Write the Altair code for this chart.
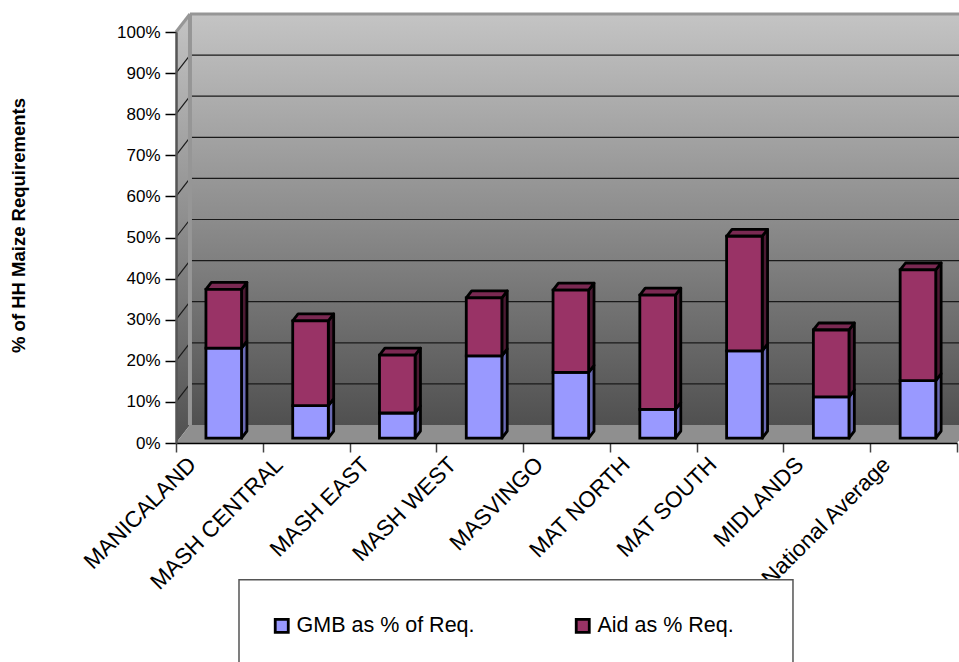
import altair as alt
import pandas as pd

# Survey results by province, in percent of household maize requirements
categories = ["MANICALAND", "MASH CENTRAL", "MASH EAST", "MASH WEST", "MASVINGO",
              "MAT NORTH", "MAT SOUTH", "MIDLANDS", "National Average"]
gmb_share = [21.9, 7.9, 6.1, 20.0, 16.0, 7.0, 21.2, 10.0, 14.0]
aid_share = [14.3, 20.6, 14.1, 14.1, 20.0, 27.8, 27.9, 16.3, 26.9]
grid_levels = [10, 20, 30, 40, 50, 60, 70, 80, 90]
series_names = ["GMB as % of Req.", "Aid as % Req."]
front_colors = ["#9999ff", "#993366"]
side_colors = ["#6a6ab4", "#4c1a33"]
top_color = "#7a2952"

# Oblique projection of the box: how far the rear plane sits from the front one
WALL_DX = 0.161   # category units
WALL_DY = 4.38    # percent units
BAR_DX = 0.062
BAR_DY = 1.7
BAR_BASE = 1.2
BAR_LEFT, BAR_RIGHT = 0.345, 0.755
N = len(categories)

x_scale = alt.Scale(domain=[0, N], nice=False, zero=False)
y_scale = alt.Scale(domain=[0, 100], nice=False, zero=False)


def X(field="x"):
    return alt.X(f"{field}:Q", scale=x_scale)


def Y(field="y"):
    return alt.Y(f"{field}:Q", scale=y_scale, stack=None)


wall_gradient = alt.Gradient(
    gradient="linear", x1=1, x2=1, y1=0, y2=1,
    stops=[alt.GradientStop(color="#c4c4c4", offset=0),
           alt.GradientStop(color="#8c8c8c", offset=0.5),
           alt.GradientStop(color="#505050", offset=1)],
)

# Transparent layer that owns the axes
axis_frame = alt.Chart(pd.DataFrame({"x": [0, N], "y": [0, 100]})).mark_point(opacity=0).encode(
    x=alt.X("x:Q", scale=x_scale, title=None, axis=alt.Axis(
        values=list(range(N + 1)), labels=False, tickSize=9, tickColor="#444444",
        tickWidth=1.5, domainColor="#000000", domainWidth=1.5, grid=False, zindex=1)),
    y=alt.Y("y:Q", scale=y_scale, axis=alt.Axis(
        values=list(range(0, 101, 10)), labelExpr="datum.value + '%'", grid=False,
        tickSize=11, tickColor="#000000", tickWidth=1.5, labelPadding=5,
        labelFont="Liberation Sans", labelFontSize=17, labelColor="#000000",
        domainColor="#555555", domainWidth=2.5, zindex=1,
        title="% of HH Maize Requirements", titleFont="Liberation Sans",
        titleFontSize=18.5, titleFontWeight="bold", titleColor="#000000",
        titleAngle=270, titleAlign="center", titleBaseline="middle",
        titleX=-158, titleY=193)),
)

# Rear wall
back_wall = alt.Chart(pd.DataFrame([{
    "x": WALL_DX, "x2": N + WALL_DX, "y": WALL_DY, "y2": 100 + WALL_DY}])
).mark_rect(color=wall_gradient).encode(x=X(), x2="x2:Q", y=Y(), y2="y2:Q")

# Left wall as a sheared area
left_wall = alt.Chart(pd.DataFrame([
    {"x": 0, "y": 0, "y2": 100},
    {"x": WALL_DX, "y": WALL_DY, "y2": 100 + WALL_DY},
])).mark_area(orient="vertical", color=wall_gradient).encode(x=X(), y=Y(), y2="y2:Q")

# Floor of the box
floor = alt.Chart(pd.DataFrame([
    {"y": 0, "x": 0, "x2": N},
    {"y": WALL_DY, "x": WALL_DX, "x2": N + WALL_DX},
])).mark_area(orient="horizontal", color="#8f8f8f").encode(x=X(), x2="x2:Q", y=Y())

# Grid lines across the rear wall and down the left wall
grid_back = alt.Chart(pd.DataFrame({
    "y": [v + WALL_DY for v in grid_levels],
    "x": [WALL_DX] * len(grid_levels),
    "x2": [N + WALL_DX] * len(grid_levels),
})).mark_rule(color="#1a1a1a", strokeWidth=1.2).encode(x=X(), x2="x2:Q", y=Y())

grid_side = alt.Chart(pd.DataFrame(
    [{"level": v, "x": 0, "y": v} for v in grid_levels]
    + [{"level": v, "x": WALL_DX, "y": v + WALL_DY} for v in grid_levels]
)).mark_line(color="#1a1a1a", strokeWidth=1.2).encode(x=X(), y=Y(), detail="level:N")

# Grey edges of the rear wall and the slanted top edge
edge_left = alt.Chart(pd.DataFrame([{"x": WALL_DX, "y": 0 + WALL_DY, "y2": 100 + WALL_DY}])
                      ).mark_rule(color="#969696", strokeWidth=4).encode(x=X(), y=Y(), y2="y2:Q")
edge_top = alt.Chart(pd.DataFrame([{"y": 100 + WALL_DY, "x": WALL_DX, "x2": N + WALL_DX}])
                     ).mark_rule(color="#969696", strokeWidth=3).encode(x=X(), x2="x2:Q", y=Y())
edge_slant = alt.Chart(pd.DataFrame([
    {"x": 0, "y": 100}, {"x": WALL_DX, "y": 100 + WALL_DY},
])).mark_line(color="#969696", strokeWidth=3).encode(x=X(), y=Y())

# Bar geometry, all derived from the two value series
front_rows, side_rows, top_rows = [], [], []
for i, (gmb, aid) in enumerate(zip(gmb_share, aid_share)):
    left, right = i + BAR_LEFT, i + BAR_RIGHT
    low = BAR_BASE
    for k, value in enumerate((gmb, aid)):
        high = low + value
        front_rows.append({"series": series_names[k], "x": left, "x2": right, "y": low, "y2": high})
        side_rows.append({"id": f"{i}-{k}", "series": series_names[k], "x": right, "y": low, "y2": high})
        side_rows.append({"id": f"{i}-{k}", "series": series_names[k], "x": right + BAR_DX,
                          "y": low + BAR_DY, "y2": high + BAR_DY})
        low = high
    top_rows.append({"id": i, "y": low, "x": left, "x2": right})
    top_rows.append({"id": i, "y": low + BAR_DY, "x": left + BAR_DX, "x2": right + BAR_DX})

bar_side = alt.Chart(pd.DataFrame(side_rows)).mark_area(
    orient="vertical", stroke="#000000", strokeWidth=2.8, strokeJoin="round"
).encode(
    x=X(), y=Y(), y2="y2:Q", detail="id:N",
    color=alt.Color("series:N", legend=None,
                    scale=alt.Scale(domain=series_names, range=side_colors)),
)
bar_top = alt.Chart(pd.DataFrame(top_rows)).mark_area(
    orient="horizontal", color=top_color, stroke="#000000", strokeWidth=2.8, strokeJoin="round"
).encode(x=X(), x2="x2:Q", y=Y(), detail="id:N")
bar_front = alt.Chart(pd.DataFrame(front_rows)).mark_rect(
    stroke="#000000", strokeWidth=2.8
).encode(
    x=X(), x2="x2:Q", y=Y(), y2="y2:Q",
    fill=alt.Fill("series:N", scale=alt.Scale(domain=series_names, range=front_colors),
                  legend=alt.Legend(
                      orient="none", legendX=95, legendY=583, direction="horizontal",
                      title=None, symbolType="square", symbolSize=170,
                      symbolStrokeColor="#000000", symbolStrokeWidth=2.8,
                      labelFont="Liberation Sans", labelFontSize=21.5, labelColor="#000000",
                      labelOffset=4, columnPadding=95, columns=2, labelLimit=300)),
)

# Slanted category labels
labels = alt.Chart(pd.DataFrame({
    "name": categories,
    "x": [i + 0.19 for i in range(N)],
    "y": [-4.4] * N,
})).mark_text(angle=315, align="right", baseline="middle", font="Liberation Sans",
              fontSize=22.5, color="#000000").encode(x=X(), y=Y(), text="name:N")

# Legend panel, painted over the end of the last label
legend_box = alt.Chart(pd.DataFrame([{"x": 63 / 86.78, "x2": 617 / 86.78, "y": -33.3, "y2": -60}])
                       ).mark_rect(fill="#ffffff", stroke="#555555", strokeWidth=1.5).encode(
    x=X(), x2="x2:Q", y=Y(), y2="y2:Q")

chart = alt.layer(
    axis_frame, back_wall, left_wall, floor, grid_back, grid_side, edge_left, edge_top, edge_slant,
    bar_side, bar_top, bar_front, labels, legend_box,
).resolve_scale(color="independent").properties(
    width=781, height=411,
    padding={"left": 176, "top": 32, "right": 2, "bottom": 219},
    autosize=alt.AutoSizeParams(type="none"),
    background="#ffffff",
).configure_view(stroke=None)

chart.save("out.html", embed_options={"renderer": "svg", "actions": False})
